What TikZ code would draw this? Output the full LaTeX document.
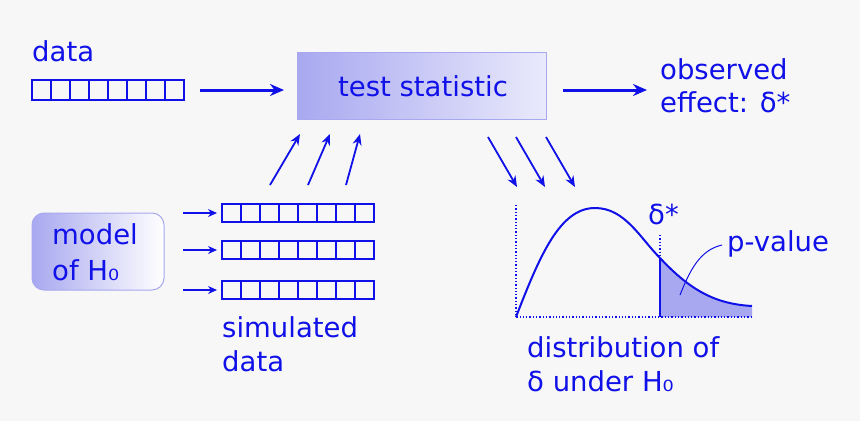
\documentclass[tikz,border=0pt]{standalone}
\usepackage{fontspec}
\setmainfont{DejaVu Sans}
\usetikzlibrary{arrows.meta}
\definecolor{bl}{HTML}{1010E8}
\definecolor{lb}{HTML}{A8A8F0}
\tikzset{cellst/.style={draw=bl,line width=1.3pt}}
\newcommand\cellrow[3]{\foreach \i in {0,...,7}{\draw[cellst] ({#1+\i*19},#2) rectangle ++(19,#3);}}
\begin{document}
\begin{tikzpicture}[x=1pt,y=-1pt,
  txt/.style={text=bl,font=\fontsize{27.5}{30}\selectfont,inner sep=0pt,anchor=base west},
  arr/.style={draw=bl,line width=3pt,-{Stealth[length=14pt,width=12pt]}},
  sarr/.style={draw=bl,line width=1.8pt,-{Stealth[length=11pt,width=9pt]}}]
\fill[gray!6] (0,0) rectangle (860,421);
\useasboundingbox (0,0) rectangle (860,421);
\node[txt] (d) at (32,61) {data};
\cellrow{32}{80}{20}
\coordinate (d1) at (200,90); \coordinate (d2) at (284,90);
\draw[arr] (d1) -- (d2);
\shade[left color=lb,right color=lb!25] (297,52) rectangle (546,119);
\draw[lb,line width=1pt] (297,52) rectangle (546,119);
\node[txt,anchor=center] (ts) at (423,86) {test statistic};
\coordinate (e1) at (563,90); \coordinate (e2) at (647,90);
\draw[arr] (e1) -- (e2);
\node[txt] (o1) at (660,79) {observed};
\node[txt] (o2) at (660,112) {effect: δ*};
\foreach \a/\b in {270/298,308/328,346/358}{
  \coordinate (u1) at (\a,185); \coordinate (u2) at (\b+2,134);
  \draw[sarr] (u1) -- (u2);}
\foreach \a in {488,516,546}{
  \coordinate (v1) at (\a,137); \coordinate (v2) at (\a+29,187);
  \draw[sarr] (v1) -- (v2);}
\shade[left color=lb,right color=white,rounded corners=12pt] (32,213) rectangle (164,290);
\draw[lb,line width=1pt,rounded corners=12pt] (32,213) rectangle (164,290);
\node[txt] (m1) at (52,244) {model};
\node[txt] (m2) at (52,280) {of H₀};
\foreach \y in {213,250,290}{
  \coordinate (s1) at (183,\y); \coordinate (s2) at (217,\y);
  \draw[draw=bl,line width=1.2pt,-{Stealth[length=9pt,width=8pt]}] (s1) -- (s2);}
\cellrow{222}{204}{18}
\cellrow{222}{241}{18}
\cellrow{222}{281}{18}
\node[txt] (sd1) at (222,337) {simulated};
\node[txt] (sd2) at (222,371) {data};
\fill[lb] (660,258) .. controls (690,290) and (715,304) .. (752,306) -- (752,317) -- (660,317) -- cycle;
\draw[bl,dotted,line width=1.3pt] (516,205) -- (516,317) -- (752,317);
\draw[bl,dotted,line width=1.3pt] (660,235) -- (660,258);
\draw[bl,line width=1.3pt] (660,258) -- (660,317);
\draw[bl,line width=2pt] (516,317) .. controls (540,255) and (560,208) .. (595,208)
  .. controls (625,208) and (640,238) .. (660,258)
  .. controls (690,290) and (715,304) .. (752,306);
\draw[bl,line width=1pt] (680,295) .. controls (690,270) and (700,250) .. (722,245);
\node[txt] (ds) at (648,224) {δ*};
\node[txt] (pv) at (727,251) {p-value};
\node[txt] (di1) at (527,357) {distribution of};
\node[txt] (di2) at (527,391) {δ under H₀};
\end{tikzpicture}
\end{document}
